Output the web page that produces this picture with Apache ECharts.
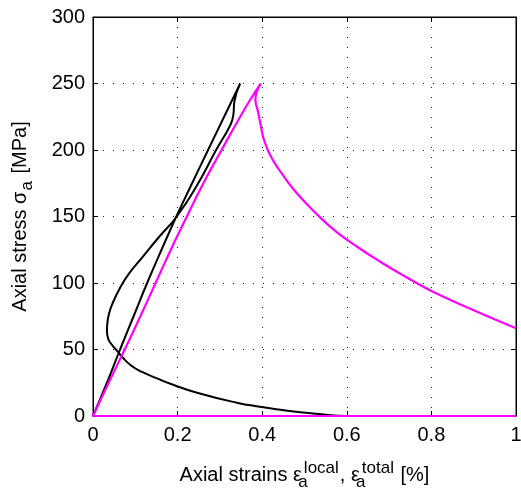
<!DOCTYPE html>
<html>
<head>
<meta charset="utf-8">
<script src="https://cdn.jsdelivr.net/npm/echarts@6/dist/echarts.min.js"></script>
<style>
html,body{margin:0;padding:0;background:#fff;}
#chart{width:521px;height:494px;}
</style>
</head>
<body>
<div id="chart"></div>
<script>
// Tick values
const xTicks = [0, 0.2, 0.4, 0.6, 0.8, 1];
const yTicks = [0, 50, 100, 150, 200, 250, 300];

// Local axial strain (black): loading, unloading, tail
const localStrain = [0, 0.033, 0.064, 0.096, 0.128, 0.162, 0.197, 0.232, 0.272, 0.31, 0.348,
  0.334, 0.332, 0.325, 0.291, 0.246, 0.198, 0.156, 0.117, 0.085, 0.065, 0.046, 0.038, 0.034, 0.033, 0.036,
  0.046, 0.057, 0.069, 0.09, 0.116, 0.15, 0.183, 0.246, 0.34, 0.395, 0.443, 0.49, 0.54, 0.6, 1.0];
const localStress = [0, 25, 50, 75, 100, 125, 150, 173.5, 200, 225, 250,
  236, 227, 219, 200, 173.5, 150, 134.6, 119.5, 107, 97, 84.5, 77, 70, 64, 58,
  53, 49, 44.4, 38, 33.1, 28.5, 24.2, 17.5, 10, 6.9, 4.7, 2.9, 1.3, 0, 0];

// Total axial strain (magenta): baseline, loading, post-peak
const totalStrain = [1.0, 0, 0.037, 0.075, 0.112, 0.148, 0.184, 0.222, 0.261, 0.304, 0.348, 0.372, 0.397,
  0.384, 0.39, 0.397, 0.403, 0.419, 0.447, 0.482, 0.53, 0.577, 0.628, 0.679, 0.74, 0.8, 0.9, 1.0];
const totalStress = [0, 0, 25, 50, 75, 100, 125, 150, 175, 200, 225, 238, 250,
  238, 229, 218, 209, 196, 182, 167.5, 151.5, 138, 126.5, 116, 104.5, 94, 79.5, 66];

const zip = (a, b) => a.map((v, i) => [v, b[i]]);
const FONT = "'Liberation Sans', Arial, Helvetica, sans-serif";

const chart = echarts.init(document.getElementById('chart'), null, {renderer: 'canvas'});

const gridLine = {show: true, lineStyle: {color: '#222', width: 1, type: [1, 9]}};
const hiddenLabel = {show: false};

chart.setOption({
  animation: false,
  backgroundColor: '#fff',
  grid: {left: 93, right: 5, top: 17, bottom: 78, containLabel: false, outerBoundsMode: 'none',
    show: true, borderColor: '#000', borderWidth: 1, backgroundColor: 'transparent'},
  xAxis: [{
    type: 'value', min: xTicks[0], max: xTicks[xTicks.length - 1], interval: 0.2,
    position: 'bottom',
    axisLine: {show: true, onZero: false, lineStyle: {color: '#000', width: 1}},
    axisTick: {show: true, inside: true, length: 5, lineStyle: {color: '#000'}},
    axisLabel: {color: '#000', fontFamily: FONT, fontSize: 20, margin: 9},
    splitLine: gridLine,
    name: '{t|Axial strains ε}{sub|a}{sup|local}{t|, ε}{sub|a}{sup|total}{t| [%]}',
    nameLocation: 'middle', nameGap: 43,
    nameTextStyle: {
      color: '#000', fontFamily: FONT, fontSize: 20,
      rich: {
        t: {fontFamily: FONT, fontSize: 20, color: '#000'},
        sub: {fontFamily: FONT, fontSize: 17, color: '#000', width: 0, padding: [15, 0, 0, 1]},
        sup: {fontFamily: FONT, fontSize: 17, color: '#000', padding: [0, 1, 13, 1]}
      }
    }
  }, {
    type: 'value', min: 0, max: 1, interval: 0.2, position: 'top',
    axisLine: {show: true, onZero: false, lineStyle: {color: '#000'}},
    axisTick: {show: true, inside: true, length: 5, lineStyle: {color: '#000'}},
    axisLabel: hiddenLabel, splitLine: {show: false}
  }],
  yAxis: [{
    type: 'value', min: yTicks[0], max: yTicks[yTicks.length - 1], interval: 50,
    position: 'left',
    axisLine: {show: true, onZero: false, lineStyle: {color: '#000', width: 1}},
    axisTick: {show: true, inside: true, length: 5, lineStyle: {color: '#000'}},
    axisLabel: {color: '#000', fontFamily: FONT, fontSize: 20, margin: 8},
    splitLine: gridLine,
    name: '{t|Axial stress σ}{sub|a}{t| [MPa]}',
    nameLocation: 'middle', nameGap: 57, nameRotate: 90,
    nameTextStyle: {
      color: '#000', fontFamily: FONT, fontSize: 20,
      rich: {
        t: {fontFamily: FONT, fontSize: 20, color: '#000'},
        sub: {fontFamily: FONT, fontSize: 17, color: '#000', padding: [15, 2, 0, 1]}
      }
    }
  }, {
    type: 'value', min: 0, max: 300, interval: 50, position: 'right',
    axisLine: {show: true, onZero: false, lineStyle: {color: '#000'}},
    axisTick: {show: true, inside: true, length: 5, lineStyle: {color: '#000'}},
    axisLabel: hiddenLabel, splitLine: {show: false}
  }],
  series: [{
    name: 'local', type: 'line', xAxisIndex: 0, yAxisIndex: 0,
    data: zip(localStrain, localStress),
    showSymbol: false, symbol: 'none', smooth: 0.5,
    lineStyle: {color: '#000', width: 2}, z: 3
  }, {
    name: 'total', type: 'line', xAxisIndex: 0, yAxisIndex: 0,
    data: zip(totalStrain, totalStress),
    showSymbol: false, symbol: 'none', smooth: 0.5,
    lineStyle: {color: '#ff00ff', width: 2.2}, z: 4
  }]
});
</script>
</body>
</html>
